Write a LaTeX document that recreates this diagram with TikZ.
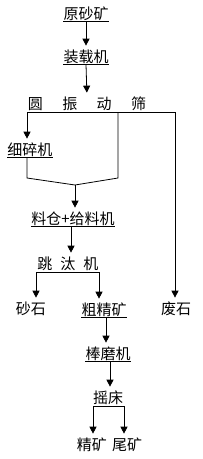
\documentclass[tikz,border=0pt]{standalone}
\usepackage{fontspec}
\newfontfamily\cjk{Noto Sans CJK SC}
\usetikzlibrary{arrows.meta, positioning, calc}

\begin{document}
\begin{tikzpicture}[
  x=1pt, y=-1pt, line width=0.8pt,
  lbl/.style={font=\cjk\fontsize{15}{15}\selectfont, inner sep=0pt},
  arr/.style={-{Triangle[length=7pt,width=7pt]}, shorten >=4pt},
]
\useasboundingbox (0,0) rectangle (203,459);

\node[lbl] (raw)    at (86,14)   {原砂矿};
\node[lbl] (loader) at (86,57)   {装载机};
\node[lbl] (screen) at (87,104)  {圆\hspace{19.5pt}振\hspace{19.5pt}动\hspace{19.5pt}筛};
\node[lbl] (crusher) at (30,150) {细碎机};
\node[lbl] (bin)    at (73,219)  {料仓+给料机};
\node[lbl] (jig)    at (68,264)  {跳\hspace{8pt}汰\hspace{8pt}机};
\node[lbl] (sand)   at (31,309)  {砂石};
\node[lbl] (rough)  at (104,310) {粗精矿};
\node[lbl] (waste)  at (176,309) {废石};
\node[lbl] (mill)   at (108,354) {棒磨机};
\node[lbl] (table)  at (108,398) {摇床};
\node[lbl] (conc)   at (92,445)  {精矿};
\node[lbl] (tail)   at (127,445) {尾矿};

% underlines
\foreach \n in {raw, loader, crusher, bin, rough, mill}
  \draw (\n.south west) -- (\n.south east);

% screen outlets
\coordinate (sl) at (27,112);
\coordinate (sm) at (118,112);
\coordinate (sr) at (175,112);
\coordinate (merge) at (75,185);

\draw[arr] (raw.south) -- (loader.north);
\draw[arr] (loader.south) -- (screen.north);
\draw (sl) -- (sr);
\draw[arr] (sl) -- (crusher.north -| sl);
\draw[arr] (sr) -- (waste.north -| sr);
\draw (crusher.south -| sl) -- (27,178) -- (merge) -- (118,178) -- (sm);
\draw[arr] (merge) -- (bin.north -| merge);
\draw[arr] (bin.south -| 71,0) -- (jig.north -| 71,0);

% jig outlets
\draw[arr] ($(jig.south)+(0,1)$) -| (sand.north -| 36,0);
\draw[arr] ($(jig.south)+(0,1)$) -| (rough.north -| 99,0);

\draw[arr] (rough.south -| 106,0) -- (mill.north -| 106,0);
\draw[arr] (mill.south -| 110,0) -- (table.north -| 110,0);

% table outlets
\draw[arr] ($(table.south)+(0,1)$) -| (conc.north -| 93,0);
\draw[arr] ($(table.south)+(0,1)$) -| (tail.north -| 124,0);
\end{tikzpicture}
\end{document}
